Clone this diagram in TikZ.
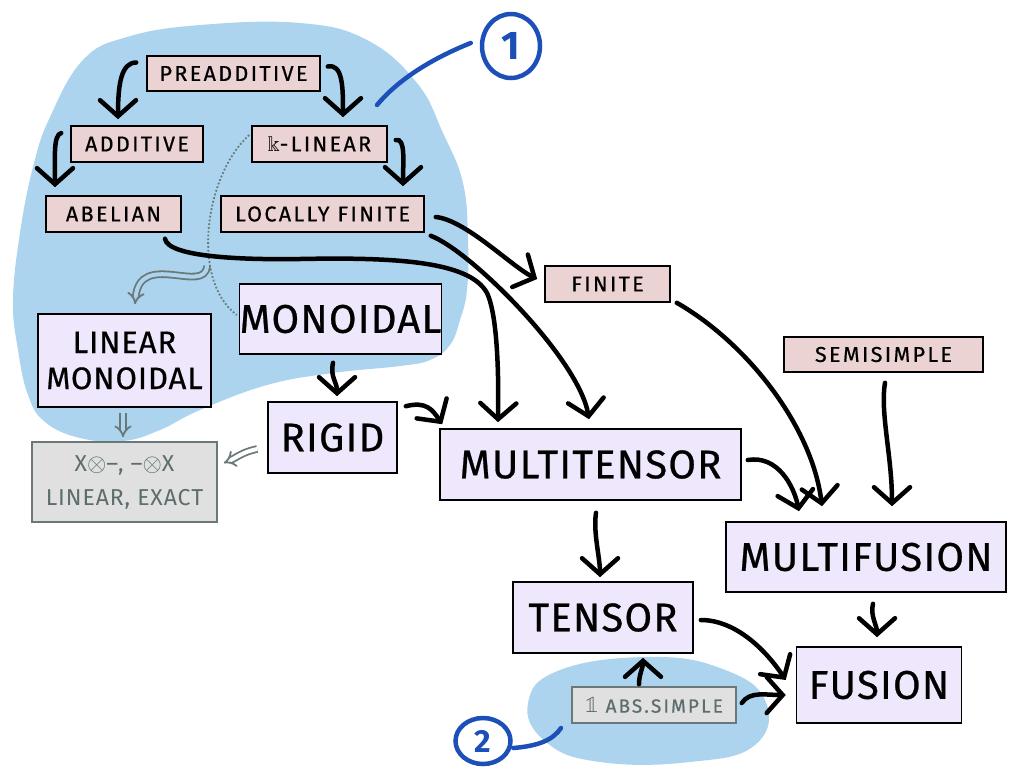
\documentclass[tikz,border=0pt]{standalone}
\usepackage{amssymb}
\usepackage{fontspec}
\usetikzlibrary{arrows.meta,shapes.geometric}
\setmainfont{Fira Sans}
\newfontfamily\labelfont{Fira Sans}[LetterSpace=11,FakeBold=0.6]
\newfontfamily\headfont{Fira Sans}[LetterSpace=3,FakeBold=0.6]
\newfontfamily\notefont{Fira Sans}[LetterSpace=4]
\newfontfamily\lmm{Latin Modern Math}

\definecolor{blobblue}{HTML}{ACD4EF}
\definecolor{pinkfill}{HTML}{EBD3D3}
\definecolor{lavfill}{HTML}{EFE7FB}
\definecolor{grayfill}{HTML}{E0E0E0}
\definecolor{grayline}{HTML}{6A7878}
\definecolor{grayink}{HTML}{5D6D6D}
\definecolor{inkblue}{HTML}{1C4FB8}

\tikzset{
  smallbox/.style={draw=black, line width=1.6pt, fill=pinkfill, inner sep=0pt,
    font=\labelfont\fontsize{21.5}{24}\selectfont},
  bigbox/.style={draw=black, line width=1.6pt, fill=lavfill, inner sep=0pt,
    font=\headfont\fontsize{40}{44}\selectfont},
  notebox/.style={draw=grayline, line width=1.6pt, fill=grayfill, text=grayink,
    inner sep=0pt, align=center},
  arr/.style={draw=black, line width=4.5pt, line cap=round,
    -{Straight Barb[length=16pt,width=36pt,line cap=round]}},
  garr/.style={draw=grayline, line width=1.8pt, double distance=4pt,
    -{Implies[scale=1.7]}},
  ink/.style={draw=inkblue, line width=4.5pt, line cap=round},
  dots/.style={draw=grayline, line width=1.8pt, dotted},
}

\begin{document}
\begin{tikzpicture}[x=1pt,y=-1pt]
\useasboundingbox (0,0) rectangle (1014,769);

% background regions
\fill[blobblue] plot[smooth cycle, tension=0.7] coordinates {
  (300,23) (367,40) (417,83) (443,133) (463,183) (468,240) (467,290)
  (460,320) (450,345) (430,360) (400,366) (333,373) (267,385) (200,410)
  (160,430) (123,441) (80,438) (45,422) (28,395) (18,350) (13,300)
  (20,233) (33,167) (50,117) (83,60) (127,37) (200,25)};
\fill[blobblue] plot[smooth cycle, tension=0.75] coordinates {
  (648,657) (720,668) (765,700) (755,745) (690,762) (600,762)
  (546,742) (528,703) (560,670)};

% categories
\node[smallbox, minimum width=173pt, minimum height=35pt] (pre)  at (233.5,73.5) {PREADDITIVE};
\node[smallbox, minimum width=132pt, minimum height=36pt] (add)  at (137,144) {ADDITIVE};
\node[smallbox, minimum width=135pt, minimum height=36pt] (klin) at (319.5,144) {$\Bbbk$-LINEAR};
\node[smallbox, minimum width=135pt, minimum height=36pt] (abel) at (113.5,214) {ABELIAN};
\node[smallbox, minimum width=203pt, minimum height=36pt] (locf) at (322.5,214) {LOCALLY FINITE};
\node[smallbox, minimum width=125pt, minimum height=36pt] (fin)  at (607.5,284) {FINITE};
\node[smallbox, minimum width=199pt, minimum height=35pt] (semi) at (883.5,354.5) {SEMISIMPLE};

\node[bigbox, minimum width=201pt, minimum height=70pt] (mon)  at (340.5,319) {MONOIDAL};
\node[bigbox, minimum width=173pt, minimum height=93pt, align=center,
  font=\headfont\fontsize{31}{36}\selectfont] (linmon) at (124.5,360.5) {LINEAR\\MONOIDAL};
\node[bigbox, minimum width=129pt, minimum height=71pt] (rigid) at (332.5,437.5) {RIGID};
\node[bigbox, minimum width=301pt, minimum height=71pt] (mten) at (590.5,464.5) {MULTITENSOR};
\node[bigbox, minimum width=280pt, minimum height=70pt] (mfus) at (866,557) {MULTIFUSION};
\node[bigbox, minimum width=180pt, minimum height=71pt] (tens) at (603,617.5) {TENSOR};
\node[bigbox, minimum width=165pt, minimum height=76pt] (fus)  at (879,685) {FUSION};

\node[notebox, minimum width=185pt, minimum height=80pt,
  font=\notefont\fontsize{23}{34}\selectfont] (exact) at (124.5,482)
  {X$\otimes$–, –$\otimes$X\\LINEAR, EXACT};
\node[notebox, minimum width=164pt, minimum height=36pt,
  font=\labelfont\fontsize{19}{21}\selectfont] (abs) at (654,705)
  {{\lmm\fontsize{24}{24}\selectfont 𝟙} ABS.SIMPLE};

% callouts
\node[ink, ellipse, minimum width=58pt, minimum height=64pt, inner sep=0pt,
  text=inkblue, font=\bfseries\fontsize{40}{40}\selectfont] (c1) at (511,46) {1};
\node[ink, ellipse, minimum width=55pt, minimum height=46pt, inner sep=0pt,
  text=inkblue, font=\bfseries\fontsize{32}{32}\selectfont] (c2) at (483,741) {2};
\coordinate (p1) at (377,105);
\coordinate (p2) at (561,728);
\draw[ink] ([shift={(-9,-3)}]c1.west) .. controls +(-30,12) and +(25,-30) .. (p1);
\draw[ink] ([shift={(0.5,7)}]c2.east) .. controls +(25,-2) and +(-8,12) .. (p2);

% dotted boundary and implications in grey
\draw[dots] ([shift={(-2,-9)}]klin.west) .. controls (205,175) and (190,280) .. ([shift={(-2,-4)}]mon.west);
\coordinate (dotpt) at (207,266);
\draw[garr, double=blobblue] (dotpt) .. controls (205,295) and (140,250) .. ([shift={(10.5,-9)}]linmon.north);
\draw[garr, double=blobblue] ([shift={(-1.5,5)}]linmon.south) -- ([shift={(-1.5,-4)}]exact.north);
\draw[garr, double=white] ([shift={(-10,11.5)}]rigid.west) .. controls +(-15,3) and +(12,-5) .. ([shift={(6,-19)}]exact.east);

% implications
\draw[arr] ([shift={(-10,-11)}]pre.west) .. controls +(-15,0) and +(0,-35) .. ([shift={(-19,-6)}]add.north);
\draw[arr] ([shift={(7,-7)}]pre.east) .. controls +(15,-3) and +(0,-30) .. ([shift={(23.5,-8)}]klin.north);
\draw[arr] ([shift={(-9,-11)}]add.west) .. controls +(-8,2) and +(0,-30) .. ([shift={(-58.5,-8)}]abel.north);
\draw[arr] ([shift={(8,-4)}]klin.east) .. controls +(10,-2) and +(0,-25) .. ([shift={(80.5,-9)}]locf.north);
\draw[arr] ([shift={(51.5,6)}]abel.south) .. controls +(3,18) and +(-60,1) .. (300,259)
  .. controls (400,257) and (470,262) .. (487,293)
  .. controls (496,312) and (499,360) .. ([shift={(-92.5,-6)}]mten.north);
\draw[arr] ([shift={(11,3)}]locf.east) .. controls +(30,3) and +(-25,-12) .. ([shift={(-7,-5)}]fin.west);
\draw[arr] ([shift={(6,3)}]locf.south east) .. controls +(40,15) and +(-10,-60) .. ([shift={(-1.5,-9)}]mten.north);
\draw[arr] ([shift={(6,0)}]fin.south east) .. controls +(70,40) and +(-10,-80) .. ([shift={(-44,-15)}]mfus.north);
\draw[arr] ([shift={(1.5,10)}]semi.south) .. controls +(-5,30) and +(0,-50) .. ([shift={(26,-15)}]mfus.north);
\draw[arr] ([shift={(6,-4.5)}]mten.east) .. controls +(30,-5) and +(-5,-25) .. ([shift={(-67,-10)}]mfus.north);
\draw[arr] ([shift={(-7.5,8)}]mon.south) .. controls +(-3,15) and +(0,-15) .. ([shift={(4.5,-5)}]rigid.north);
\draw[arr] ([shift={(8,5)}]rigid.north east) .. controls +(20,-5) and +(-10,-15) .. ([shift={(3,-4)}]mten.north west);
\draw[arr] ([shift={(5.5,12)}]mten.south) .. controls +(-3,20) and +(0,-20) .. ([shift={(-3,-4)}]tens.north);
\draw[arr] ([shift={(7,11)}]mfus.south) .. controls +(-3,12) and +(0,-12) .. ([shift={(-2,-9)}]fus.north);
\draw[arr] ([shift={(7,2.5)}]tens.east) .. controls +(35,0) and +(-20,-30) .. ([shift={(-10,-5)}]fus.west);
\draw[arr] ([shift={(-15,-2)}]abs.north) .. controls +(0,-10) and +(0,10) .. ([shift={(40,4)}]tens.south);
\draw[arr] ([shift={(5,-2)}]abs.east) .. controls +(8,-12) and +(-20,0) .. ([shift={(-10,10)}]fus.west);
\end{tikzpicture}
\end{document}
